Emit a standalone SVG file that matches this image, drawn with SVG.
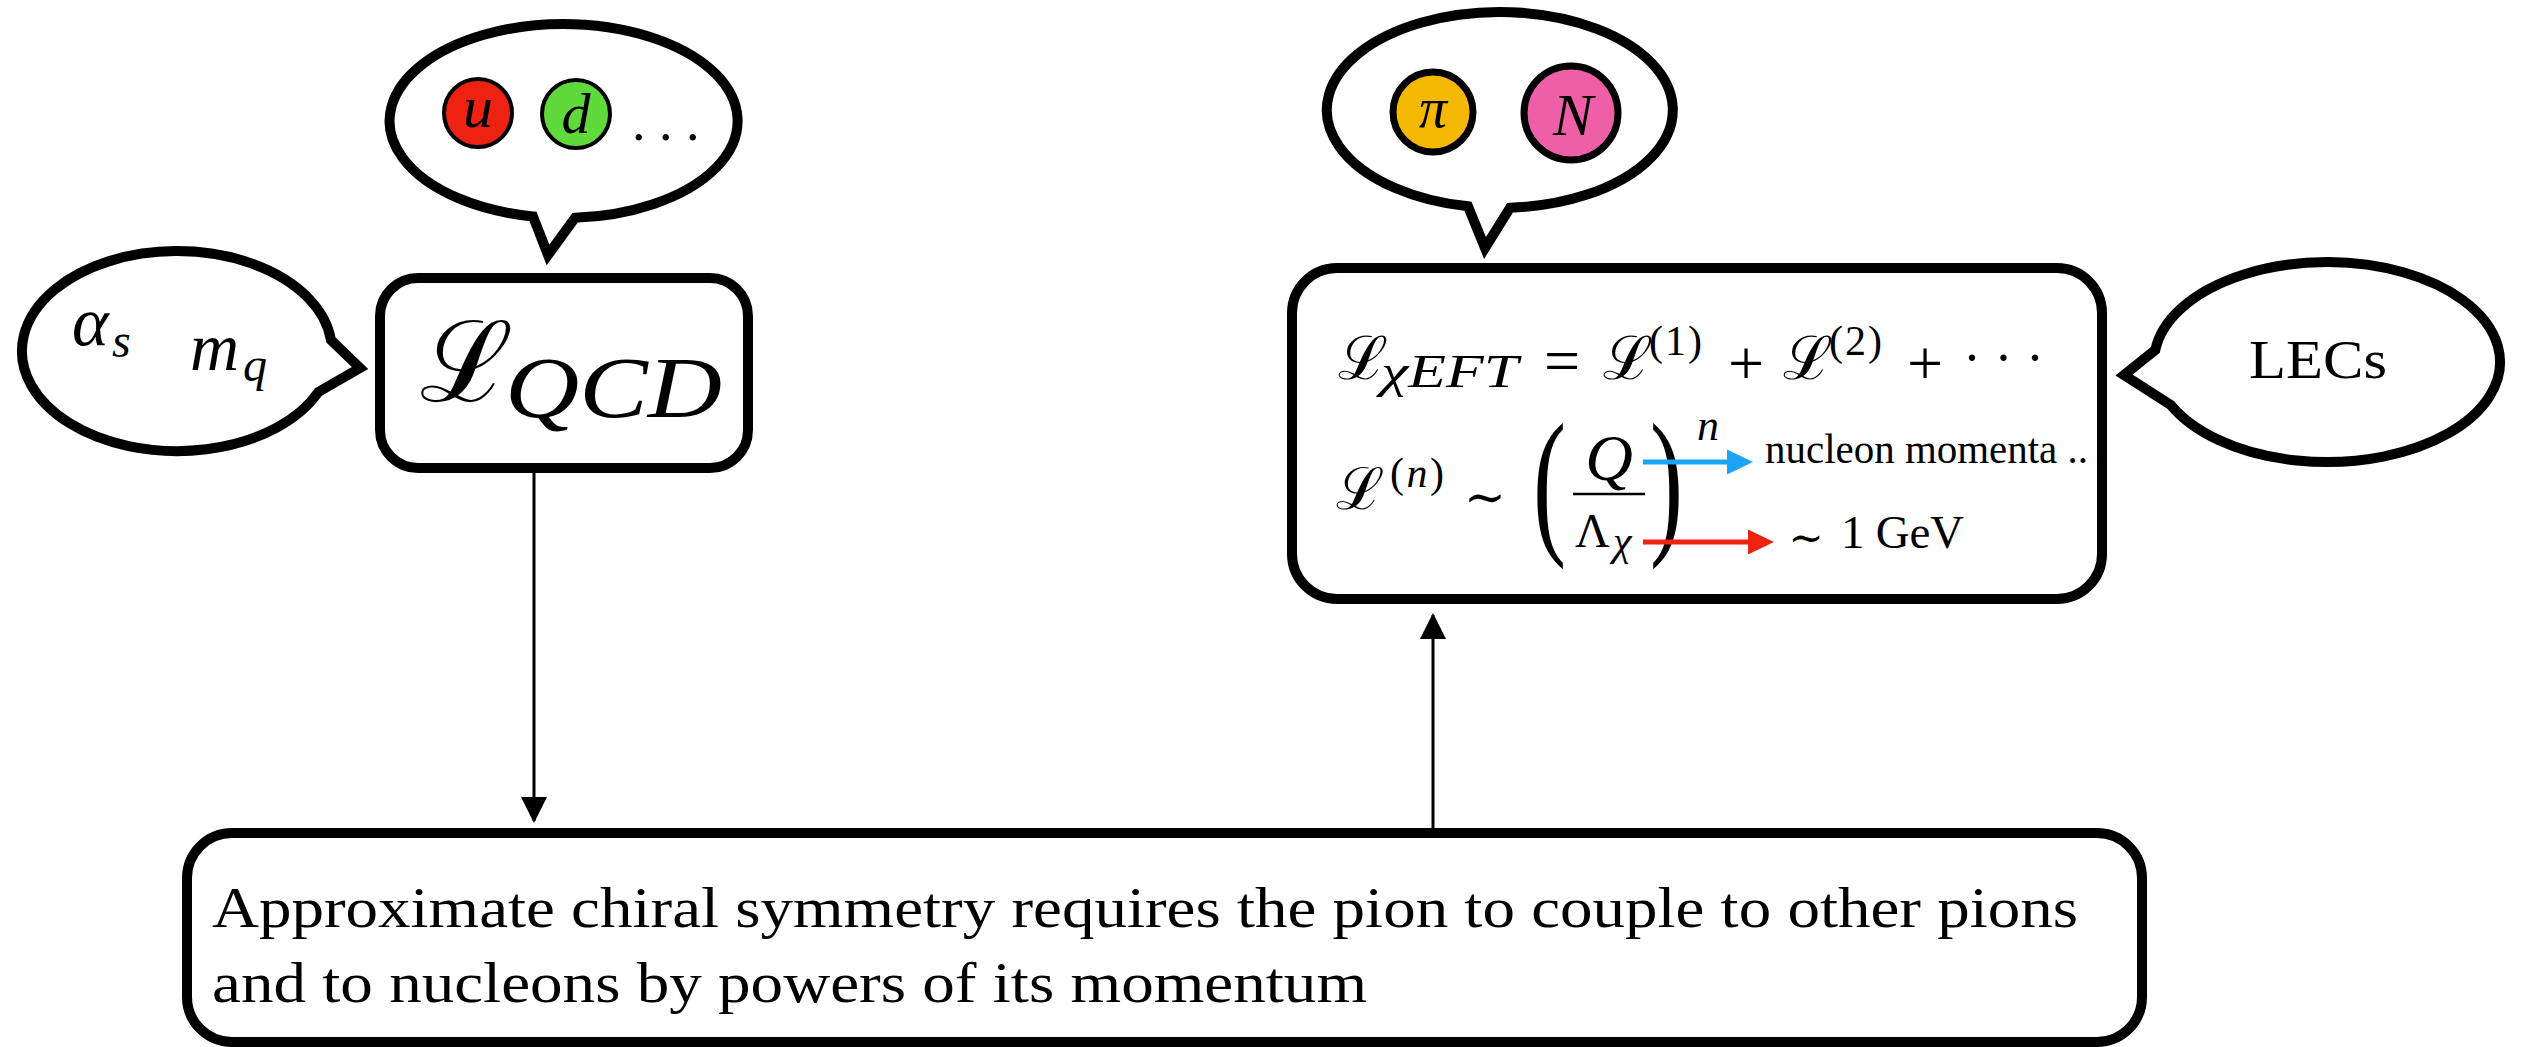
<svg xmlns="http://www.w3.org/2000/svg" width="2525" height="1047" viewBox="0 0 2525 1047">
<style>
.shape{fill:#fff;stroke:#000;stroke-width:10;stroke-linejoin:miter;stroke-miterlimit:10}
.box{fill:#fff;stroke:#000;stroke-width:10}
.mi{font-family:"Liberation Serif",serif;font-style:italic;fill:#000}
.rm{font-family:"Liberation Serif",serif;fill:#000}
.scr{font-family:"DejaVu Serif",serif;fill:#000}
.conn{stroke:#000;stroke-width:3;fill:none}
.paren{font-family:"Liberation Serif",serif;font-size:160px;fill:#000}
</style>
<defs>
<marker id="ah" markerUnits="userSpaceOnUse" viewBox="0 0 26 26" markerWidth="26" markerHeight="26" refX="24" refY="13" orient="auto">
<path d="M0,0 L26,13 L0,26 Z" fill="#000"/>
</marker>
</defs>

<g id="quarks-bubble">
<path class="shape" d="M 575 217.8 A 174 97 0 1 0 533 216.5 L 548 255 Z"/>
<circle cx="478" cy="113" r="34" fill="#EE2211" stroke="#000" stroke-width="4"/>
<circle cx="576" cy="114" r="34" fill="#60D93A" stroke="#000" stroke-width="4"/>
<text class="mi" x="478" y="127" font-size="60" text-anchor="middle">u</text>
<text class="mi" x="576" y="133" font-size="58" text-anchor="middle">d</text>
<text class="rm" x="632" y="140" font-size="54">. . .</text>
</g>

<g id="params-bubble">
<path class="shape" d="M 331 340 A 155 100 0 1 0 318.4 392 L 360 368 Z"/>
<text class="mi" x="72" y="345" font-size="70">α</text>
<text class="mi" x="112" y="357" font-size="48">s</text>
<text class="mi" x="190" y="370" font-size="68">m</text>
<text class="mi" x="243" y="381" font-size="48">q</text>
</g>

<g id="qcd-lagrangian">
<rect class="box" x="380" y="278" width="368" height="190" rx="38"/>
<text class="scr" x="420" y="401" font-size="112">ℒ</text>
<text class="mi" x="505" y="417" font-size="86" textLength="217" lengthAdjust="spacingAndGlyphs">QCD</text>
</g>

<g id="hadrons-bubble">
<path class="shape" d="M 1510 207.8 A 173 98 0 1 0 1468 206.3 L 1485 248 Z"/>
<circle cx="1433" cy="112" r="40" fill="#F5B800" stroke="#000" stroke-width="7"/>
<circle cx="1571" cy="113" r="47" fill="#EE5FA7" stroke="#000" stroke-width="7"/>
<text class="mi" x="1433" y="127" font-size="56" text-anchor="middle">π</text>
<text class="mi" x="1573" y="135" font-size="60" text-anchor="middle">N</text>
</g>

<g id="eft-lagrangian">
<rect class="box" x="1292" y="268" width="810" height="331" rx="45"/>
<text class="scr" x="1338" y="379" font-size="60">ℒ</text>
<text class="mi" x="1381" y="387" font-size="46" textLength="137" lengthAdjust="spacingAndGlyphs">χEFT</text>
<text class="rm" x="1562" y="382" font-size="64" text-anchor="middle">=</text>
<text class="scr" x="1603" y="379" font-size="60">ℒ</text>
<text class="rm" x="1649" y="355" font-size="42" textLength="53" lengthAdjust="spacing">(1)</text>
<text class="rm" x="1746" y="385" font-size="64" text-anchor="middle">+</text>
<text class="scr" x="1783" y="379" font-size="60">ℒ</text>
<text class="rm" x="1829" y="355" font-size="42" textLength="53" lengthAdjust="spacing">(2)</text>
<text class="rm" x="1925" y="385" font-size="64" text-anchor="middle">+</text>
<text class="rm" x="1963" y="376" font-size="54">· · ·</text>

<text class="scr" x="1336" y="509" font-size="58">ℒ</text>
<text class="rm" x="1390" y="487" font-size="42" textLength="54" lengthAdjust="spacing">(<tspan font-style="italic">n</tspan>)</text>
<text class="scr" x="1485" y="514" font-size="50" text-anchor="middle">∼</text>
<text class="paren" transform="translate(1533,535) scale(0.62,1)">(</text>
<text class="mi" x="1609" y="480" font-size="66" text-anchor="middle">Q</text>
<line x1="1573" y1="494" x2="1645" y2="494" stroke="#000" stroke-width="2.5"/>
<text class="rm" x="1575" y="547" font-size="48">Λ</text>
<text class="mi" x="1613" y="555" font-size="42">χ</text>
<text class="paren" transform="translate(1650,535) scale(0.62,1)">)</text>
<text class="mi" x="1697" y="440" font-size="44">n</text>

<line x1="1643" y1="462" x2="1729" y2="462" stroke="#1AA4F4" stroke-width="5"/>
<path d="M1727,449.5 L1753,462 L1727,474.5 Z" fill="#1AA4F4"/>
<text class="rm" x="1765" y="463" font-size="42" textLength="323" lengthAdjust="spacingAndGlyphs">nucleon momenta ..</text>
<line x1="1643" y1="542" x2="1750" y2="542" stroke="#EE2211" stroke-width="5"/>
<path d="M1748,529.5 L1774,542 L1748,554.5 Z" fill="#EE2211"/>
<text class="scr" x="1806" y="552" font-size="42" text-anchor="middle">∼</text>
<text class="rm" x="1841" y="548" font-size="47" textLength="123" lengthAdjust="spacing">1 GeV</text>
</g>

<g id="lecs-bubble">
<path class="shape" d="M 2155.3 350 A 173 100 0 1 1 2170.8 405 L 2124 375 Z"/>
<text class="rm" x="2249" y="378" font-size="55" textLength="138" lengthAdjust="spacingAndGlyphs">LECs</text>
</g>

<g id="chiral-symmetry">
<rect class="box" x="187" y="833" width="1955" height="209" rx="45"/>
<text class="rm" x="212" y="927" font-size="58" textLength="1866" lengthAdjust="spacingAndGlyphs">Approximate chiral symmetry requires the pion to couple to other pions</text>
<text class="rm" x="212" y="1002" font-size="58" textLength="1155" lengthAdjust="spacingAndGlyphs">and to nucleons by powers of its momentum</text>
</g>

<g id="connectors">
<line class="conn" x1="534" y1="465" x2="534" y2="821" marker-end="url(#ah)"/>
<line class="conn" x1="1433" y1="829" x2="1433" y2="615" marker-end="url(#ah)"/>
</g>
</svg>
